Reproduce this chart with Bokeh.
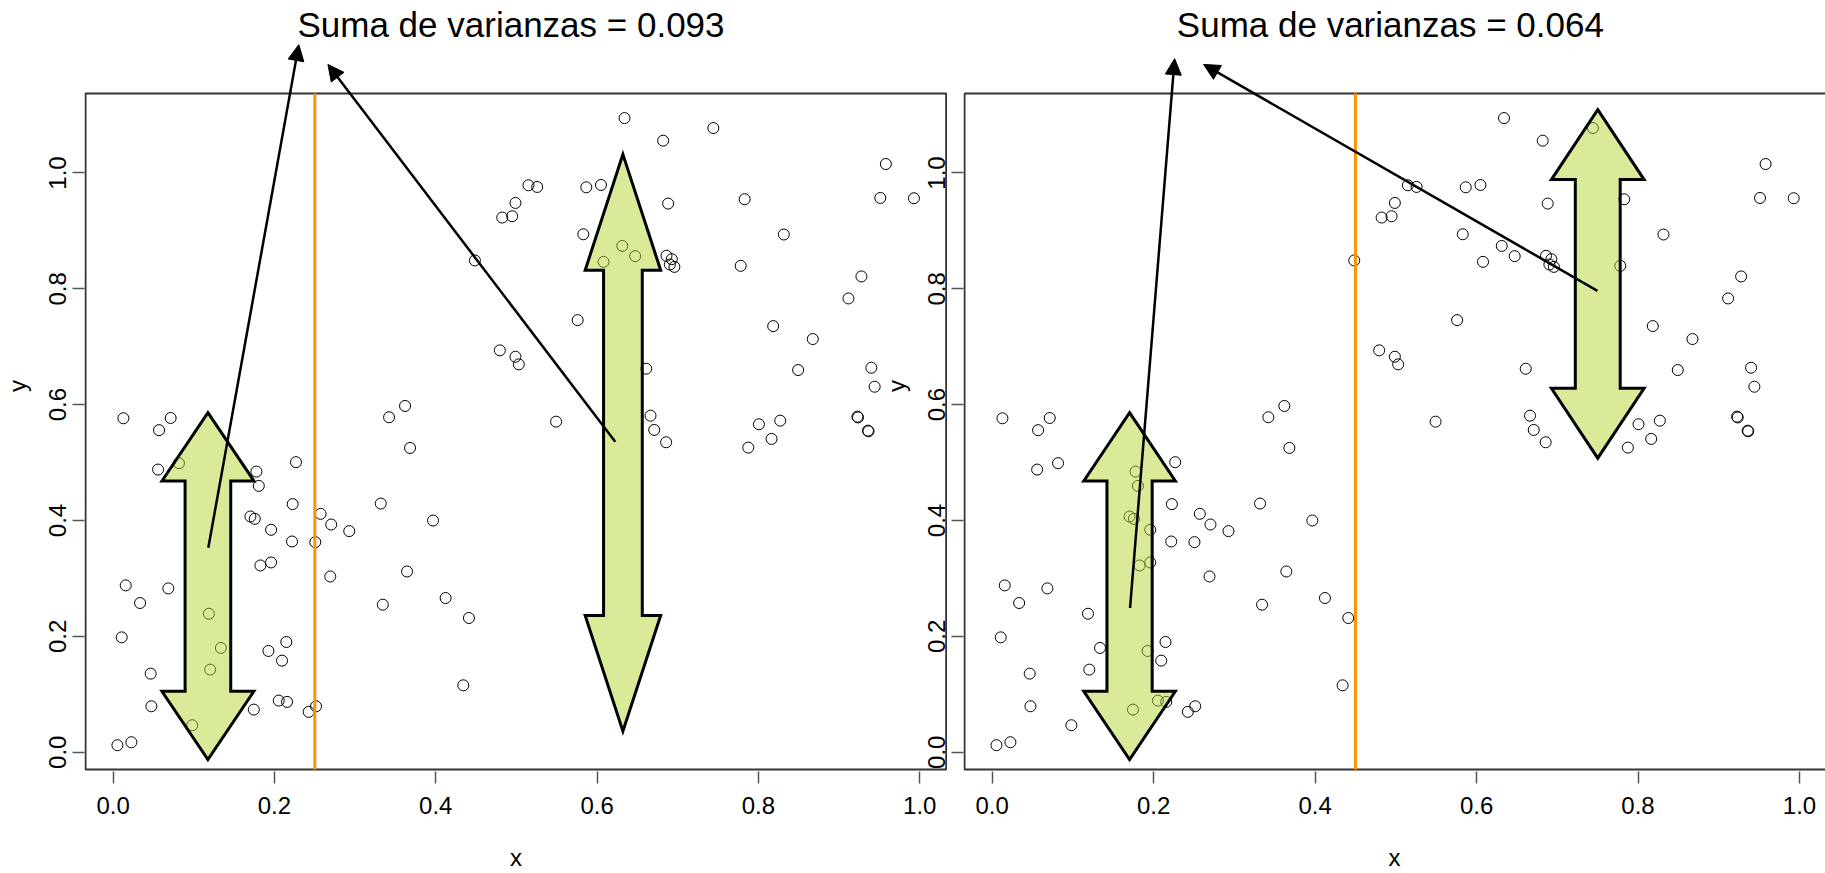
from bokeh.plotting import figure
from bokeh.layouts import row
from bokeh.models import (Arrow, NormalHead, FixedTicker, Range1d,
                          ColumnDataSource, PrintfTickFormatter)
from bokeh.core.properties import value
from bokeh.embed import file_html
from bokeh.resources import INLINE

# ---- sample points (same cloud shown in both panels) ----
x = [0.0127, 0.0569, 0.0713, 0.0557, 0.0816, 0.1776, 0.2267, 0.3421, 0.3619, 0.3681,
     0.1806, 0.2226, 0.1702, 0.1756, 0.1958, 0.2218, 0.2506, 0.2572, 0.2704, 0.2927,
     0.3318, 0.3966, 0.1826, 0.1958, 0.2692, 0.3644, 0.3343, 0.4122, 0.4411, 0.0156,
     0.0684, 0.0334, 0.1187, 0.0106, 0.1336, 0.1203, 0.1925, 0.2147, 0.2094, 0.0465,
     0.0474, 0.0981, 0.1744, 0.2053, 0.2156, 0.2424, 0.2515, 0.4341, 0.0053, 0.0226,
     0.4485, 0.6340, 0.7441, 0.6819, 0.9580, 0.5149, 0.5257, 0.5866, 0.6048, 0.4988,
     0.4824, 0.4947, 0.6881, 0.7829, 0.9511, 0.9928, 0.5829, 0.8315, 0.6312, 0.6472,
     0.6080, 0.6860, 0.6926, 0.6902, 0.6958, 0.7780, 0.9277, 0.9116, 0.5759, 0.8183,
     0.8674, 0.4794, 0.4988, 0.5029, 0.6609, 0.8492, 0.9400, 0.9441, 0.5492, 0.6662,
     0.6708, 0.6856, 0.8006, 0.8270, 0.8163, 0.7874, 0.9227, 0.9235, 0.9358, 0.9365]
y = [0.5765, 0.5560, 0.5770, 0.4880, 0.4990, 0.4845, 0.5007, 0.5783, 0.5978, 0.5253,
     0.4598, 0.4283, 0.4069, 0.4029, 0.3840, 0.3638, 0.3627, 0.4116, 0.3931, 0.3817,
     0.4293, 0.4000, 0.3224, 0.3276, 0.3034, 0.3120, 0.2547, 0.2662, 0.2317, 0.2880,
     0.2828, 0.2576, 0.2391, 0.1983, 0.1800, 0.1426, 0.1748, 0.1903, 0.1581, 0.1357,
     0.0793, 0.0466, 0.0736, 0.0891, 0.0869, 0.0697, 0.0793, 0.1155, 0.0121, 0.0172,
     0.8490, 1.0948, 1.0776, 1.0558, 1.0155, 0.9788, 0.9759, 0.9753, 0.9793, 0.9483,
     0.9231, 0.9253, 0.9472, 0.9547, 0.9569, 0.9564, 0.8942, 0.8938, 0.8741, 0.8564,
     0.8466, 0.8570, 0.8512, 0.8420, 0.8379, 0.8397, 0.8214, 0.7834, 0.7460, 0.7357,
     0.7133, 0.6938, 0.6828, 0.6696, 0.6621, 0.6598, 0.6638, 0.6310, 0.5707, 0.5810,
     0.5564, 0.5351, 0.5662, 0.5724, 0.5409, 0.5259, 0.5793, 0.5780, 0.5552, 0.5540]

ticks = [0.0, 0.2, 0.4, 0.6, 0.8, 1.0]

# ---- one entry per panel ----
split_at = [0.25, 0.45]
titles = ["Suma de varianzas =  0.093", "Suma de varianzas =  0.064"]

# spread arrows of the two groups: centre, lower tip, upper tip, head half-width,
# shaft half-width, head length
spread_cx = [[0.1175, 0.6320], [0.1702, 0.7501]]
spread_lo = [[-0.0126, 0.0362], [-0.0126, 0.5076]]
spread_hi = [[0.5862, 1.0322], [0.5862, 1.1093]]
spread_head = [[0.0570, 0.0468], [0.0567, 0.0574]]
spread_shaft = [[0.0283, 0.0240], [0.0280, 0.0278]]
spread_hlen = [[0.1178, 0.2000], [0.1178, 0.1207]]

# pointers from each group up to the caption
ptr_x0 = [[0.1180, 0.6225], [0.1708, 0.7497]]
ptr_y0 = [[0.3530, 0.5360], [0.2490, 0.7966]]
ptr_x1 = [[0.2302, 0.2663], [0.2260, 0.2619]]
ptr_y1 = [[1.2216, 1.1874], [1.1974, 1.1874]]

FONT = "Liberation Sans"
FRAME = "#333333"
TICK = "#555555"
GREEN = "#b3d533"
ORANGE = "#ff9400"

# plotting box (data units) and the drawing area around it
BOX_X = (-0.03426, 1.0328)
BOX_Y = (-0.0298, 1.1374)
VIEW_X = [(-0.0355, 1.0344), (-0.0355, 1.0322)]
VIEW_Y = (-0.0333, 1.2978)
CAPTION_Y = 1.2560


def double_arrow(cx, lo, hi, hh, sh, hl):
    xs = [cx, cx + hh, cx + sh, cx + sh, cx + hh, cx, cx - hh, cx - sh, cx - sh, cx - hh]
    ys = [hi, hi - hl, hi - hl, lo + hl, lo + hl, lo, lo + hl, lo + hl, hi - hl, hi - hl]
    return xs, ys


def make_panel(i, width, border_left, closed_right):
    p = figure(width=width, height=873,
               x_range=Range1d(*VIEW_X[i]), y_range=Range1d(*VIEW_Y),
               output_backend="svg", toolbar_location=None,
               min_border_left=border_left, min_border_right=0,
               min_border_top=0, min_border_bottom=101,
               x_axis_label="x", y_axis_label="y")
    p.grid.visible = False
    p.border_fill_color = None
    p.background_fill_color = "white"
    p.outline_line_color = None

    for ax in p.axis:
        ax.ticker = FixedTicker(ticks=ticks)
        ax.formatter = PrintfTickFormatter(format="%.1f")
        ax.axis_line_color = None
        ax.major_tick_out = 12
        ax.major_tick_in = 0
        ax.minor_tick_out = 0
        ax.minor_tick_in = 0
        ax.major_tick_line_color = TICK
        ax.major_tick_line_width = 1.5
        ax.major_label_text_font = FONT
        ax.major_label_text_font_size = "24px"
        ax.major_label_text_color = "black"
        ax.axis_label_text_font = FONT
        ax.axis_label_text_font_size = "24px"
        ax.axis_label_text_font_style = "normal"
        ax.axis_label_text_color = "black"
    p.xaxis.bounds = BOX_X
    p.yaxis.bounds = BOX_Y
    p.yaxis.major_label_orientation = "vertical"
    p.xaxis.major_label_standoff = 13
    p.yaxis.major_label_standoff = 6
    p.xaxis.axis_label_standoff = 27
    p.yaxis.axis_label_standoff = 16

    # box around the plotting region
    right = BOX_X[1] if closed_right else VIEW_X[i][1] + 0.02
    p.quad(left=[BOX_X[0]], right=[right], bottom=[BOX_Y[0]], top=[BOX_Y[1]],
           fill_color=None, line_color=FRAME, line_width=2)

    src = ColumnDataSource(dict(x=x, y=y))
    p.scatter("x", "y", source=src, marker="circle", size=11,
              fill_color=None, line_color="black", line_width=1)

    # split position
    p.segment(x0=[split_at[i]], y0=[BOX_Y[0]], x1=[split_at[i]], y1=[BOX_Y[1]],
              line_color=ORANGE, line_width=3)

    for k in range(2):
        xs, ys = double_arrow(spread_cx[i][k], spread_lo[i][k], spread_hi[i][k],
                              spread_head[i][k], spread_shaft[i][k], spread_hlen[i][k])
        p.patch(xs, ys, fill_color=GREEN, fill_alpha=0.5,
                line_color="black", line_width=3, line_join="miter")

    for k in range(2):
        p.add_layout(Arrow(x_start=ptr_x0[i][k], y_start=ptr_y0[i][k],
                           x_end=ptr_x1[i][k], y_end=ptr_y1[i][k],
                           line_color="black", line_width=2.5,
                           end=NormalHead(size=16, fill_color="black",
                                          line_color="black", line_width=1)))

    p.text(x=[(BOX_X[0] + BOX_X[1]) / 2], y=[CAPTION_Y], text=[titles[i]],
           text_font=value(FONT), text_font_size="35px", text_color="black",
           text_align="center", text_baseline="alphabetic")
    return p


p1 = make_panel(0, width=947, border_left=82, closed_right=True)
p2 = make_panel(1, width=946, border_left=83, closed_right=False)
p2.margin = (0, 0, 0, -68)

layout = row(p1, p2)
open("out.html", "w").write(file_html(layout, INLINE))
